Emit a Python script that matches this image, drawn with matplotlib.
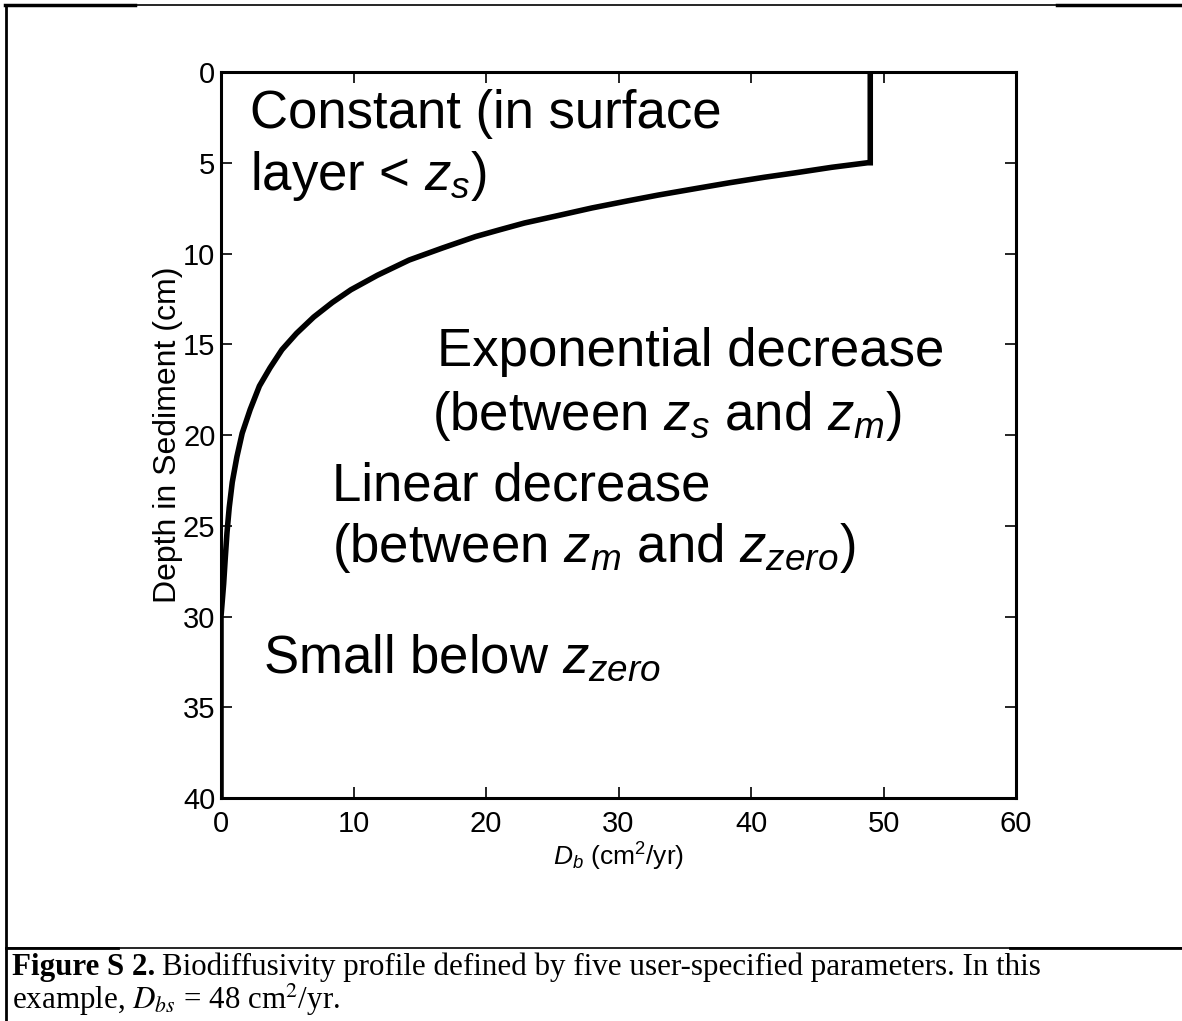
import matplotlib
matplotlib.use("Agg")
import matplotlib.pyplot as plt
from matplotlib.lines import Line2D

plt.rcParams['font.family'] = ['Liberation Sans', 'DejaVu Sans']
plt.rcParams['mathtext.fontset'] = 'custom'
plt.rcParams['mathtext.rm'] = 'Liberation Sans'
plt.rcParams['mathtext.it'] = 'Liberation Sans:italic'

# biodiffusivity profile
depth_cm = [0, 5.0, 5.0, 5.25, 5.56, 5.8, 6.1, 6.4, 6.78, 7.1, 7.49, 7.9, 8.32,
            8.7, 9.07, 9.7, 10.36, 11.2, 12.0, 12.7, 13.5, 14.4, 15.3, 16.3,
            17.3, 18.6, 19.9, 21.2, 22.6, 24.0, 25.4, 26.8, 28.2, 29.1, 30.0, 40.0]
db_vals = [49, 49, 48.8, 46.1, 43.3, 41.0, 38.4, 36.0, 33.0, 30.7, 28.0, 25.5,
           22.9, 21.0, 19.2, 16.7, 14.2, 11.8, 9.8, 8.4, 7.0, 5.7, 4.6, 3.7,
           2.9, 2.2, 1.6, 1.2, 0.85, 0.62, 0.45, 0.32, 0.2, 0.1, 0.0, 0.0]

x_ticks = [0, 10, 20, 30, 40, 50, 60]
y_ticks = [0, 5, 10, 15, 20, 25, 30, 35, 40]

# annotation labels (text, x data, y data)
labels = [
    ("Constant (in surface", 2.2, 3.1),
    (r"layer < $z_s$)", 2.2, 6.5),
    ("Exponential decrease", 16.3, 16.2),
    (r"(between $z_s$ and $z_m$)", 15.9, 19.7),
    ("Linear decrease", 8.4, 23.6),
    (r"(between $z_m$ and $z_{zero}$)", 8.4, 27.0),
    (r"Small below $z_{zero}$", 3.2, 33.1),
]

W, H = 1182, 1021
fig = plt.figure(figsize=(W / 100, H / 100), dpi=100)
ax = fig.add_axes([221 / W, 1 - 798 / H, (1016 - 221) / W, (798 - 72) / H])

ax.plot(db_vals, depth_cm, color='black', lw=4.0, solid_joinstyle='miter')
ax.set_xlim(0, 60)
ax.set_ylim(40, 0)
ax.set_xticks(x_ticks)
ax.set_yticks(y_ticks)
ax.tick_params(direction='in', length=8, width=1.2, labelsize=21,
               top=True, right=True)
ax.tick_params(axis='x', pad=9)
ax.tick_params(axis='y', pad=4)
for s in ax.spines.values():
    s.set_linewidth(2.2)

ax.set_ylabel("Depth in Sediment (cm)", fontsize=23, labelpad=0)
ax.set_xlabel(r"$D_b$ (cm$^2$/yr)", fontsize=19, labelpad=2)

for txt, xx, yy in labels:
    ax.text(xx, yy, txt, fontsize=38, va='baseline', ha='left')

# document frame lines
def fline(x0, x1, y0, y1, lw):
    fig.add_artist(Line2D([x0 / W, x1 / W], [1 - y0 / H, 1 - y1 / H],
                          color='black', lw=lw, transform=fig.transFigure))

fline(5, 1182, 5, 5, 1.2)
fline(5, 135, 5, 5, 2.5)
fline(1057, 1182, 5, 5, 2.5)
fline(6, 6, 5, 1021, 2.0)
fline(6, 1182, 948, 948, 1.2)
fline(6, 118, 948, 948, 2.0)
fline(1010, 1182, 948, 948, 2.0)

cap_kw = dict(fontsize=22.3, family='Liberation Serif', va='baseline', ha='left',
              math_fontfamily='stix')
renderer = fig.canvas.get_renderer()
t1 = fig.text(12 / W, 1 - 975 / H, "Figure S 2.", weight='bold', **cap_kw)
x1 = t1.get_window_extent(renderer).x1
fig.text((x1 + 7) / W, 1 - 975 / H,
         "Biodiffusivity profile defined by five user-specified parameters. In this",
         **cap_kw)
fig.text(12 / W, 1 - 1009 / H, r"example, $D_{bs}$ = 48 cm$^2$/yr.", **cap_kw)

fig.savefig("out.png", dpi=100)
